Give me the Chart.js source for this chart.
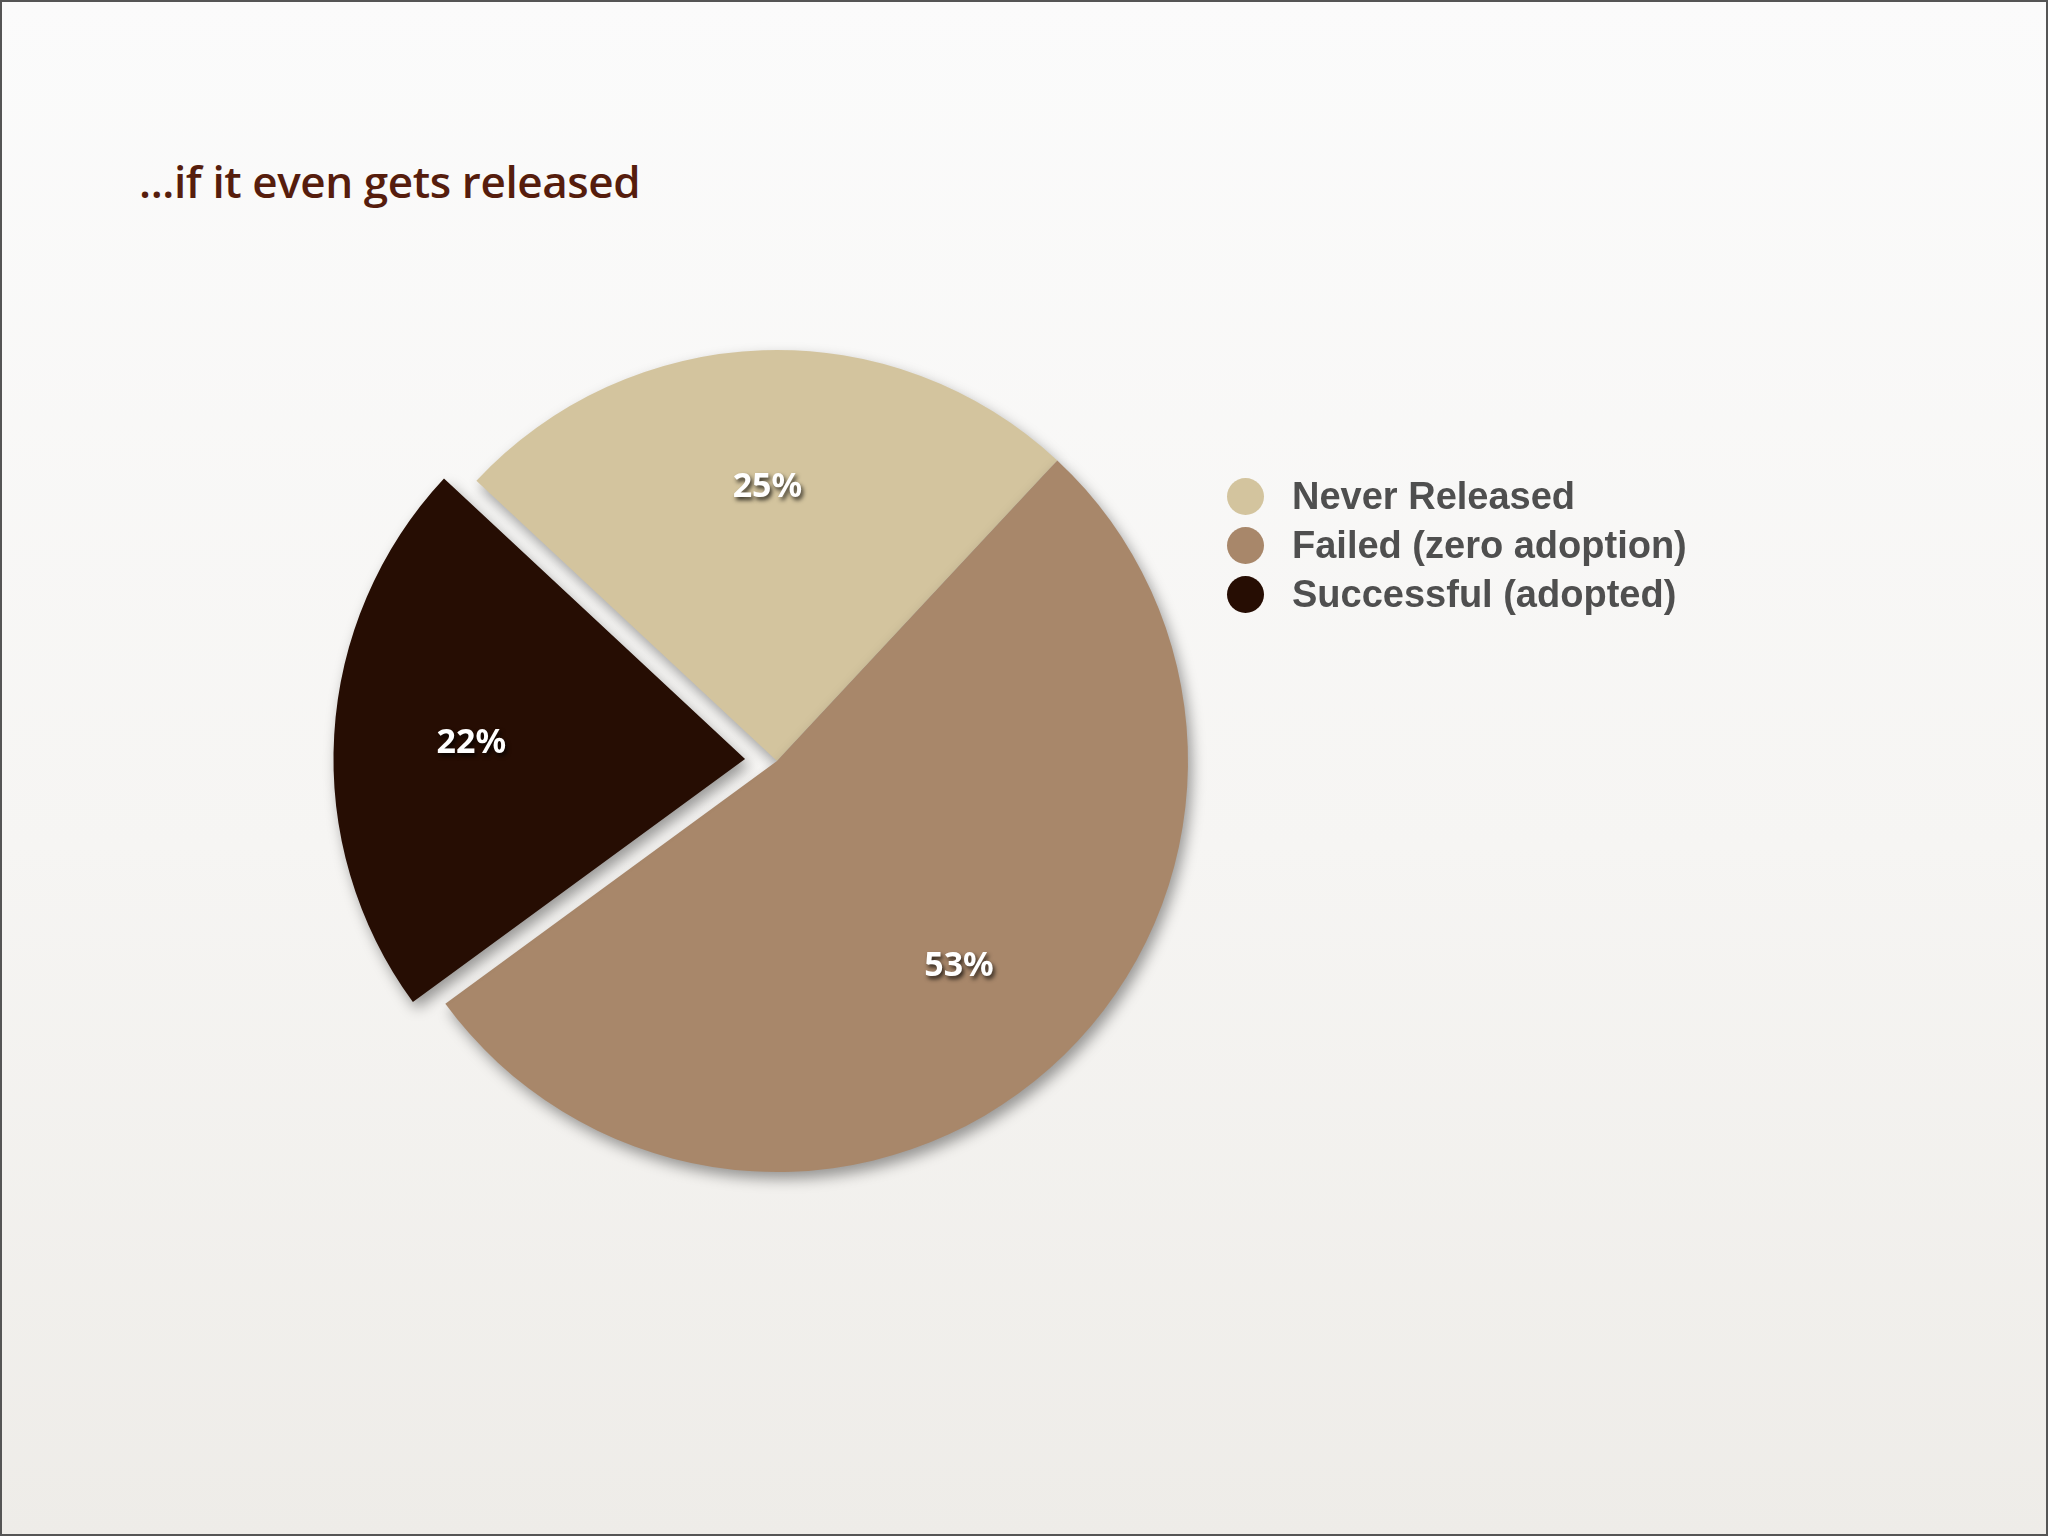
<!DOCTYPE html>
<html>
<head>
<meta charset="utf-8">
<script src="https://cdn.jsdelivr.net/npm/chart.js@4/dist/chart.umd.min.js"></script>
<style>
  html, body { margin: 0; padding: 0; }
  body {
    width: 2048px; height: 1536px; position: relative; overflow: hidden;
    background: linear-gradient(to bottom, #fbfbfb 0%, #f6f5f3 55%, #eeece8 100%);
  }
  #frame { position: absolute; left: 0; top: 0; width: 2044px; height: 1532px; border: 2px solid #555; pointer-events: none; }
  #title {
    position: absolute; left: 139px; top: 151px;
    font-family: "Open Sans", sans-serif; font-weight: 600; font-size: 44px;
    color: #561d0d; letter-spacing: -0.4px; white-space: nowrap;
  }
  #wrap { position: absolute; left: 0; top: 0; width: 2048px; height: 1536px; }
  #legend { position: absolute; left: 1227px; top: 472px; }
  .row { display: flex; align-items: center; height: 49px; }
  .dot { width: 37px; height: 37px; border-radius: 50%; margin-right: 28px; }
  .lbl { font-family: "Liberation Sans", Arial, sans-serif; font-weight: bold; font-size: 38px; color: #4f4f4f; white-space: nowrap; }
</style>
</head>
<body>
<div id="title">...if it even gets released</div>
<div id="wrap"><canvas id="c" width="2048" height="1536"></canvas></div>
<div id="legend"></div>
<div id="frame"></div>
<script>
const categories = ["Never Released", "Failed (zero adoption)", "Successful (adopted)"];
const shares = [25, 53, 22];
const valueLabels = ["25%", "53%", "22%"];
const sliceColors = ["#d3c49e", "#a8876a", "#260d03"];
// Chart.js v4 translates an arc by offset/4
const sliceOffsets = [0, 0, 128];

const legend = document.getElementById('legend');
categories.forEach((name, i) => {
  const row = document.createElement('div');
  row.className = 'row';
  const dot = document.createElement('div');
  dot.className = 'dot';
  dot.style.background = sliceColors[i];
  const lbl = document.createElement('div');
  lbl.className = 'lbl';
  lbl.textContent = name;
  row.appendChild(dot); row.appendChild(lbl);
  legend.appendChild(row);
});

const shadowPlugin = {
  id: 'sliceShadow',
  beforeDatasetsDraw(chart) {
    const ctx = chart.ctx;
    ctx.save();
    ctx.shadowColor = 'rgba(0,0,0,0.38)';
    ctx.shadowBlur = 14;
    ctx.shadowOffsetX = 4;
    ctx.shadowOffsetY = 7;
  },
  afterDatasetsDraw(chart) {
    chart.ctx.restore();
  }
};

const labelPlugin = {
  id: 'sliceLabels',
  afterDatasetsDraw(chart) {
    const ctx = chart.ctx;
    const meta = chart.getDatasetMeta(0);
    ctx.save();
    ctx.font = 'bold 34px "Noto Sans", "Open Sans", sans-serif';
    ctx.textAlign = 'center';
    ctx.textBaseline = 'middle';
    ctx.fillStyle = '#ffffff';
    ctx.shadowColor = 'rgba(0,0,0,0.75)';
    ctx.shadowBlur = 4;
    ctx.shadowOffsetX = 2;
    ctx.shadowOffsetY = 3;
    meta.data.forEach((arc, i) => {
      const p = arc.getProps(['x', 'y', 'startAngle', 'endAngle', 'outerRadius'], true);
      const mid = (p.startAngle + p.endAngle) / 2;
      const off = (arc.options.offset || 0) / 4;
      const r = off + p.outerRadius * 0.667;
      ctx.fillText(valueLabels[i], p.x + Math.cos(mid) * r, p.y + Math.sin(mid) * r);
    });
    ctx.restore();
  }
};

new Chart(document.getElementById('c'), {
  type: 'pie',
  data: {
    labels: categories,
    datasets: [{
      data: shares,
      backgroundColor: sliceColors,
      borderWidth: 0,
      offset: sliceOffsets,
      hoverOffset: 0
    }]
  },
  options: {
    responsive: false,
    animation: false,
    events: [],
    rotation: -47,
    radius: 411,
    layout: { padding: { left: 0, right: 494, top: 0, bottom: 14 } },
    plugins: {
      legend: { display: false },
      tooltip: { enabled: false },
      title: { display: false }
    }
  },
  plugins: [shadowPlugin, labelPlugin]
});
</script>
</body>
</html>
